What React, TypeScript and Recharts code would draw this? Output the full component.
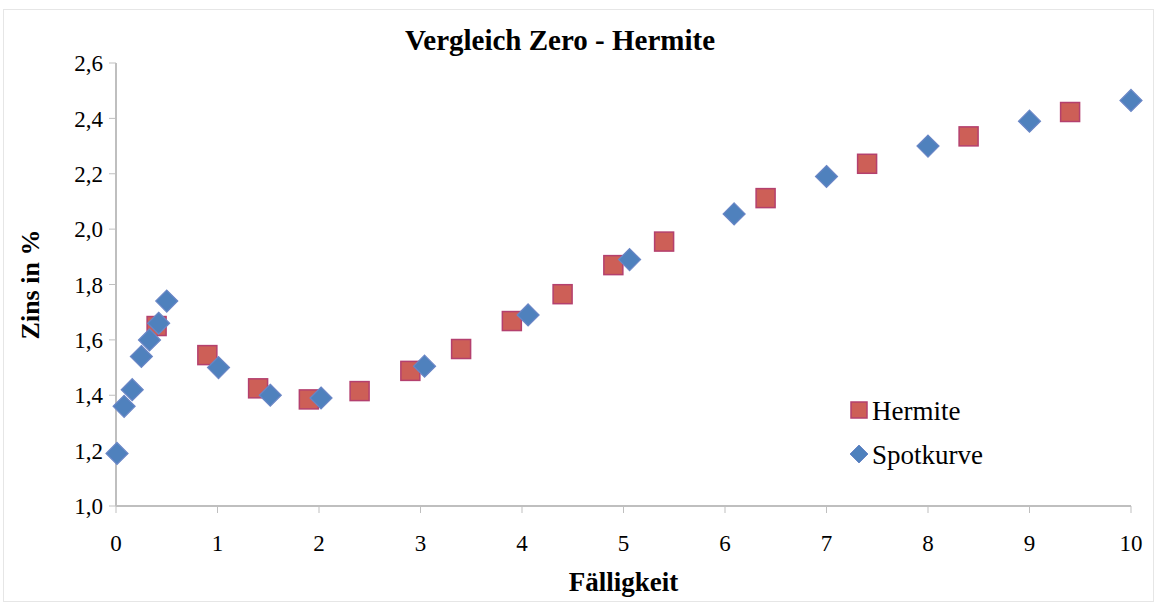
import { ScatterChart, Scatter, XAxis, YAxis } from 'recharts'

// Fälligkeit (Jahre) und Zins in %
const spotX = [0.01, 0.08, 0.16, 0.25, 0.33, 0.42, 0.5, 1.01, 1.52, 2.02, 3.04, 4.06, 5.06, 6.09, 7.0, 8.0, 9.0, 10.0]
const spotY = [1.19, 1.36, 1.42, 1.54, 1.6, 1.66, 1.74, 1.5, 1.4, 1.39, 1.505, 1.69, 1.89, 2.055, 2.19, 2.3, 2.39, 2.465]

const hermiteX = [0.4, 0.9, 1.4, 1.9, 2.4, 2.9, 3.4, 3.9, 4.4, 4.9, 5.4, 6.4, 7.4, 8.4, 9.4]
const hermiteY = [1.65, 1.545, 1.425, 1.385, 1.415, 1.488, 1.567, 1.668, 1.765, 1.87, 1.955, 2.112, 2.236, 2.335, 2.423]

const xTicks = [0, 1, 2, 3, 4, 5, 6, 7, 8, 9, 10]
const yTicks = [1.0, 1.2, 1.4, 1.6, 1.8, 2.0, 2.2, 2.4, 2.6]

const spot = spotX.map((x, i) => ({ x, y: spotY[i] }))
const hermite = hermiteX.map((x, i) => ({ x, y: hermiteY[i] }))

const FONT = '"Palatino Linotype", "Book Antiqua", Palatino, "Liberation Serif", serif'
const AXIS = '#bfbfbf'

const Square = (p: any) => (
  <rect x={p.cx - 9.5} y={p.cy - 9.5} width={19} height={19} fill="#cd5f57" stroke="#b4406e" strokeWidth={1.5} />
)
const Diamond = (p: any) => (
  <path
    d={`M${p.cx},${p.cy - 11} L${p.cx + 11},${p.cy} L${p.cx},${p.cy + 11} L${p.cx - 11},${p.cy} Z`}
    fill="#4f81bd"
    stroke="#6a86c6"
    strokeWidth={1.2}
  />
)

const LegendBox = () => (
  <div style={{ position: 'absolute', left: 849, top: 389, fontFamily: FONT, fontSize: 27, color: '#000', lineHeight: '44px' }}>
    <div style={{ display: 'flex', alignItems: 'center' }}>
      <svg width={22} height={22} style={{ marginRight: 1 }}>
        <rect x={2} y={2} width={16} height={16} fill="#cd5f57" stroke="#b4406e" strokeWidth={1.5} />
      </svg>
      Hermite
    </div>
    <div style={{ display: 'flex', alignItems: 'center' }}>
      <svg width={22} height={22} style={{ marginRight: 1 }}>
        <path d="M10,1 L19,10 L10,19 L1,10 Z" fill="#4f81bd" stroke="#6a86c6" />
      </svg>
      Spotkurve
    </div>
  </div>
)

export default function App() {
  return (
    <div style={{ position: 'relative', width: 1157, height: 604, background: '#fff', fontFamily: FONT }}>
      <style>{'body{margin:0}'}</style>
      <div style={{ position: 'absolute', left: 3, top: 9, right: 3, bottom: 2, border: '1px solid #e6e6e6' }} />
      <div
        style={{
          position: 'absolute', top: 24, left: 0, width: 1120, textAlign: 'center',
          fontWeight: 'bold', fontSize: 29, color: '#000',
        }}
      >
        Vergleich Zero - Hermite
      </div>
      <ScatterChart width={1157} height={604} margin={{ top: 63, right: 26, bottom: 38, left: 56 }} style={{ position: 'absolute', top: 0, left: 0 }}>
        <XAxis
          type="number"
          dataKey="x"
          domain={[0, 10]}
          ticks={xTicks}
          height={60}
          axisLine={{ stroke: AXIS, strokeWidth: 2 }}
          tickLine={{ stroke: AXIS }}
          tickSize={7}
          tick={{ fill: '#000', fontSize: 23, fontFamily: FONT, dy: 20 }}
          label={{ value: 'Fälligkeit', position: 'bottom', offset: 6, fill: '#000', fontSize: 27, fontWeight: 'bold', fontFamily: FONT }}
        />
        <YAxis
          type="number"
          dataKey="y"
          domain={[1, 2.6]}
          ticks={yTicks}
          width={60}
          axisLine={{ stroke: AXIS, strokeWidth: 2 }}
          tickLine={{ stroke: AXIS }}
          tickSize={7}
          tickFormatter={(v: number) => v.toFixed(1).replace('.', ',')}
          tick={{ fill: '#000', fontSize: 23, fontFamily: FONT, dx: -4 }}
          label={{ value: 'Zins in %', angle: -90, position: 'insideLeft', offset: -26, fill: '#000', fontSize: 26, fontWeight: 'bold', fontFamily: FONT, style: { textAnchor: 'middle' } }}
        />
        <Scatter name="Hermite" data={hermite} shape={Square} isAnimationActive={false} />
        <Scatter name="Spotkurve" data={spot} shape={Diamond} isAnimationActive={false} />
      </ScatterChart>
      <LegendBox />
    </div>
  )
}
